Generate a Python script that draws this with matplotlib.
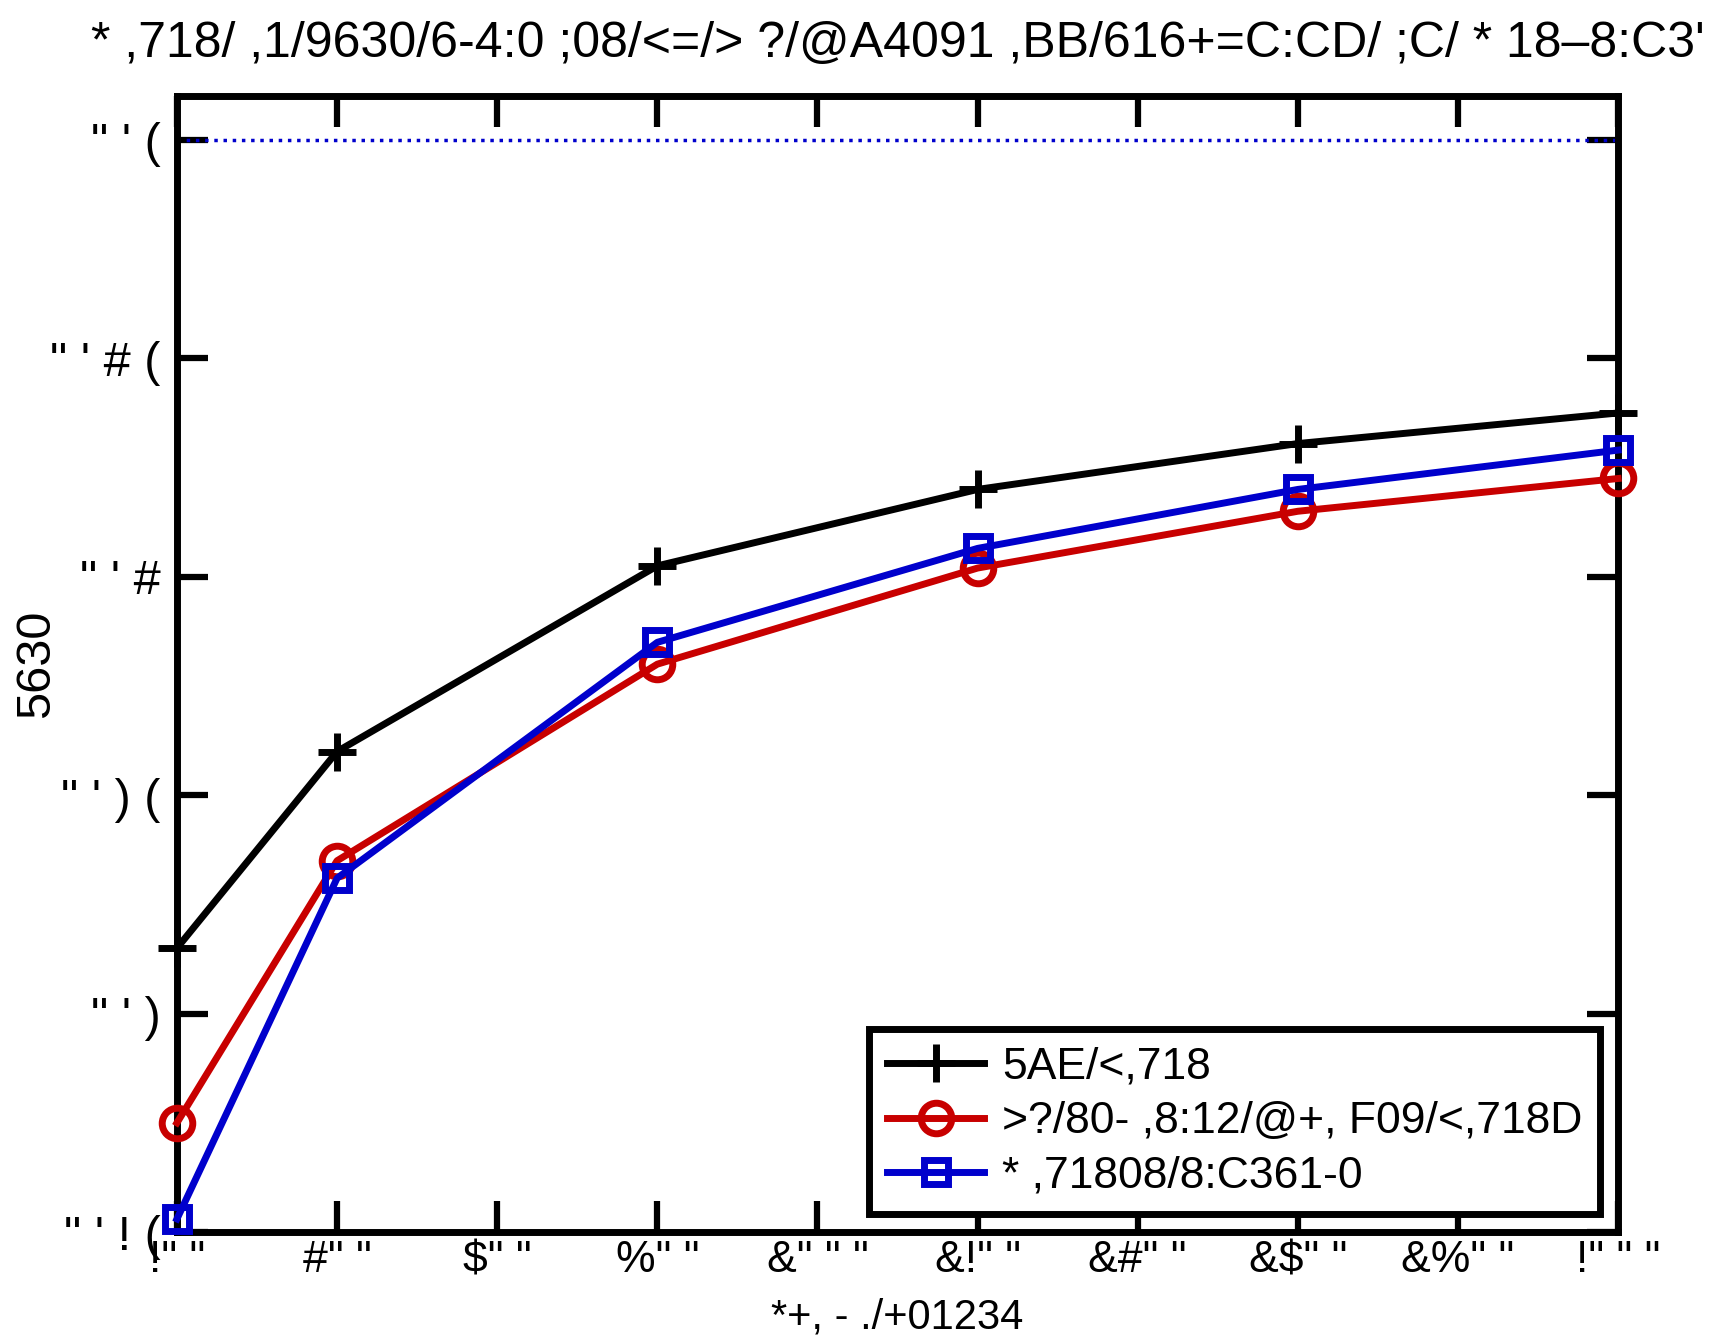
import numpy as np
import matplotlib.pyplot as plt
from matplotlib import font_manager

names = {f.name for f in font_manager.fontManager.ttflist}
if 'Liberation Sans Narrow' in names:
    plt.rcParams['font.family'] = ['Liberation Sans Narrow', 'DejaVu Sans']
else:
    plt.rcParams['font.family'] = ['Liberation Sans', 'DejaVu Sans']

# data
x = [200, 400, 800, 1200, 1600, 2000]
y_black = [0.315, 0.360, 0.4025, 0.420, 0.4305, 0.4375]
y_red = [0.275, 0.335, 0.380, 0.402, 0.415, 0.4225]
y_blue = [0.253, 0.331, 0.385, 0.4065, 0.420, 0.429]
ref_level = 0.5

labels = ['5AE/<,718', '>?/80- ,8:12/@+, F09/<,718D', '* ,71808/8:C361-0']
x_ticks = [200, 400, 600, 800, 1000, 1200, 1400, 1600, 1800, 2000]
x_ticklabels = ['!" "', '#" "', '$" "', '%" "', '&" " "', '&!" "', '&#" "', '&$" "', '&%" "', '!" " "']
y_ticks = [0.25, 0.30, 0.35, 0.40, 0.45, 0.50]
y_ticklabels = ["\" ' ! (", "\" ' )", "\" ' ) (", "\" ' #", "\" ' # (", "\" ' ("]
title = "* ,718/ ,1/9630/6-4:0 ;08/<=/> ?/@A4091 ,BB/616+=C:CD/ ;C/ * 18\u20138:C3'"
xlabel = '*+, - ./+01234'
ylabel = '5630'

fig = plt.figure(figsize=(17.13, 13.37), dpi=100)
ax = fig.add_axes([0.1033, 0.0785, 0.8413, 0.8495])

ax.plot([x[0], x[-1]], [ref_level, ref_level], ':', color='#0000cc', lw=2.5)
ax.plot(x, y_black, '-+', color='black', lw=5, ms=28, mew=5, label=labels[0], clip_on=False, zorder=4)
ax.plot(x, y_red, '-o', color='#c80000', lw=5, ms=22, mew=5, mfc='none', label=labels[1], clip_on=False, zorder=4)
ax.plot(x, y_blue, '-s', color='#0000cc', lw=5, ms=17, mew=5, mfc='none', label=labels[2], clip_on=False, zorder=5)

ax.set_xlim(200, 2000)
ax.set_ylim(0.25, 0.51)
ax.set_xticks(x_ticks)
ax.set_xticklabels(x_ticklabels, fontsize=32)
ax.set_yticks(y_ticks)
ax.set_yticklabels(y_ticklabels, fontsize=35)
ax.tick_params(direction='in', length=22, width=4.5, top=True, right=True)
ax.tick_params(axis='y', pad=12)
ax.tick_params(axis='x', pad=6)
for s in ax.spines.values():
    s.set_linewidth(5)

ax.set_title(title, fontsize=36, pad=28)
ax.set_xlabel(xlabel, fontsize=30)
ax.xaxis.set_label_coords(0.5, -0.058)
ax.set_ylabel(ylabel, fontsize=35)
ax.yaxis.set_label_coords(-0.082, 0.5)

leg = ax.legend(loc='lower right', fontsize=32, frameon=True, fancybox=False, framealpha=1,
                handlelength=2.2, borderaxespad=0.4, labelspacing=0.3, handletextpad=0.4,
                borderpad=0.4)
leg.get_frame().set_edgecolor('black')
leg.get_frame().set_linewidth(5)

fig.savefig('out.png', dpi=100)
